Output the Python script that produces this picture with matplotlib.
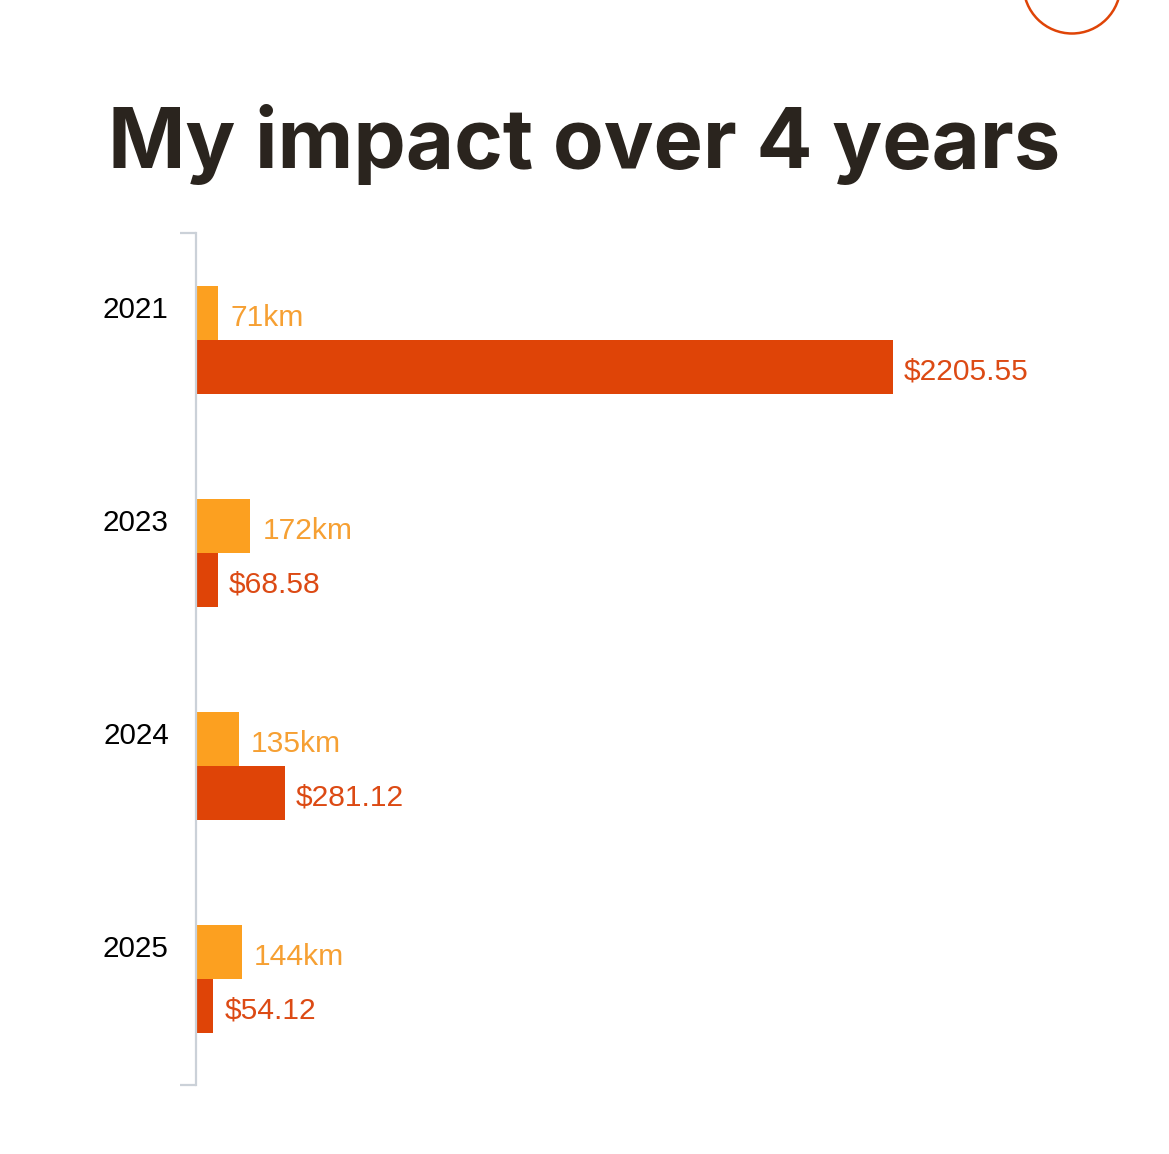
import matplotlib.pyplot as plt
from matplotlib.patches import Circle
import numpy as np

years = ['2021', '2023', '2024', '2025']
distance_km = [71, 172, 135, 144]
savings = [2205.55, 68.58, 281.12, 54.12]
km_labels = ['71km', '172km', '135km', '144km']
money_labels = ['$2205.55', '$68.58', '$281.12', '$54.12']

km_color = '#FCA020'
money_color = '#DF4407'
axis_gray = '#CBD1D8'

fig = plt.figure(figsize=(11.69, 11.54), dpi=100)
ax = fig.add_axes([196 / 1169, 69 / 1154, 948 / 1169, 852 / 1154])

y = np.arange(len(years))
h = 54 / 213
ax.barh(y - h / 2, distance_km, height=h, color=km_color)
ax.barh(y + h / 2, savings, height=h, color=money_color)

ax.set_xlim(0, 3000)
ax.set_ylim(3.5, -0.5)

for s in ['top', 'right', 'bottom']:
    ax.spines[s].set_visible(False)
ax.spines['left'].set_color(axis_gray)
ax.spines['left'].set_linewidth(1.6)
ax.set_xticks([])
ax.set_yticks([-0.5, 3.5])
ax.set_yticklabels([])
ax.tick_params(axis='y', length=11.5, width=1.6, color=axis_gray)

lab_font = 'Liberation Sans'
for i in range(len(years)):
    ax.annotate(years[i], xy=(0, y[i] - h / 2 - 0.028), xycoords=('axes fraction', 'data'),
                xytext=(-19.6, -2.2), textcoords='offset points', ha='right', va='center',
                fontsize=21.3, family=lab_font, color='black')
    ax.annotate(km_labels[i], xy=(distance_km[i], y[i] - h / 2), xytext=(8.6, -3.8),
                textcoords='offset points', ha='left', va='center',
                fontsize=21.6, family=lab_font, color='#F6A033')
    ax.annotate(money_labels[i], xy=(savings[i], y[i] + h / 2), xytext=(8, -3.8),
                textcoords='offset points', ha='left', va='center',
                fontsize=21.6, family=lab_font, color='#DC4A14')

fig.text(0.4996, 1 - 168 / 1154, 'My impact over 4 years', ha='center', va='baseline',
         fontsize=59.8, fontweight='bold', family='Inter', color='#2A241E')

fig.add_artist(Circle((10.72, 11.69), 0.485, transform=fig.dpi_scale_trans,
                      fill=False, edgecolor=money_color, linewidth=1.8))

fig.savefig('out.png', dpi=100)
